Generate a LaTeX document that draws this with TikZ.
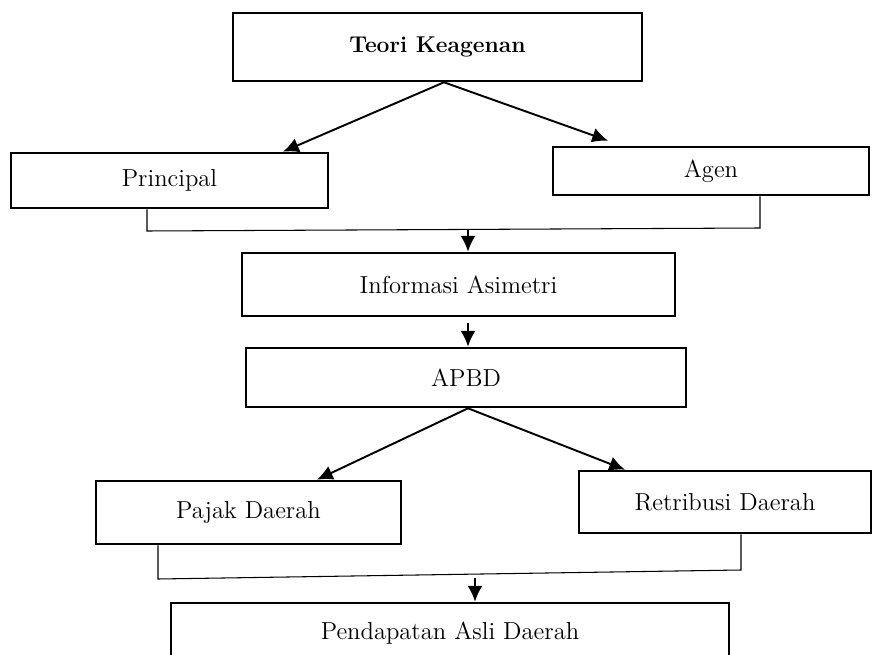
\documentclass[tikz,border=0pt]{standalone}
\usetikzlibrary{arrows.meta}

\tikzset{
  box/.style={draw, line width=1.5pt, inner sep=0pt, font=\fontsize{14}{16}\selectfont},
  arr/.style={line width=1.1pt, -{Latex[length=9pt,width=8.5pt]}},
  link/.style={line width=0.6pt}
}

\begin{document}
\begin{tikzpicture}[x=0.02cm, y=-0.02cm]
  \useasboundingbox (0,0) rectangle (872,655);

  % boxes
  \node[box, minimum width=8.18cm, minimum height=1.36cm, font=\fontsize{13}{15}\selectfont\bfseries] (teori) at (437.5,47) {Teori Keagenan};
  \node[box, minimum width=6.34cm, minimum height=1.1cm] (principal) at (169.5,180.5) {Principal};
  \node[box, minimum width=6.32cm, minimum height=0.96cm] (agen) at (711,171) {Agen};
  \node[box, minimum width=8.66cm, minimum height=1.26cm] (info) at (458.5,284.5) {Informasi Asimetri};
  \node[box, minimum width=8.8cm, minimum height=1.18cm] (apbd) at (466,377.5) {APBD};
  \node[box, minimum width=6.1cm, minimum height=1.26cm] (pajak) at (248.5,512.5) {Pajak Daerah};
  \node[box, minimum width=5.84cm, minimum height=1.24cm] (retribusi) at (725,502) {Retribusi Daerah};
  \node[box, minimum width=11.16cm, minimum height=1.2cm] (pad) at (450,633) {Pendapatan Asli Daerah};

  \draw[arr] ([xshift=0.13cm]teori.south) -- ([xshift=2.27cm]principal.north);
  \draw[arr] ([xshift=0.13cm]teori.south) -- ([xshift=-2.06cm,yshift=0.1cm]agen.north);

  \coordinate (joinA) at (147,231);
  \coordinate (joinB) at (760,228);
  \draw[link] (principal.south -| joinA) -- (joinA) -- (joinB) -- (agen.south -| joinB);

  \coordinate (spineA) at (468,229);
  \draw[arr] (spineA) -- (spineA |- info.north);
  \draw[arr] (spineA |- info.south) ++(0,6) -- (spineA |- apbd.north);

  \draw[arr] ([xshift=0.04cm]apbd.south) -- ([xshift=1.37cm]pajak.north);
  \draw[arr] ([xshift=0.04cm]apbd.south) -- ([xshift=-2cm]retribusi.north);

  \coordinate (joinC) at (158,579);
  \coordinate (joinD) at (741,570);
  \draw[link] (pajak.south -| joinC) -- (joinC) -- (joinD) -- (retribusi.south -| joinD);

  \coordinate (spineB) at (475,578);
  \draw[arr] (spineB) -- (spineB |- pad.north);
\end{tikzpicture}
\end{document}
